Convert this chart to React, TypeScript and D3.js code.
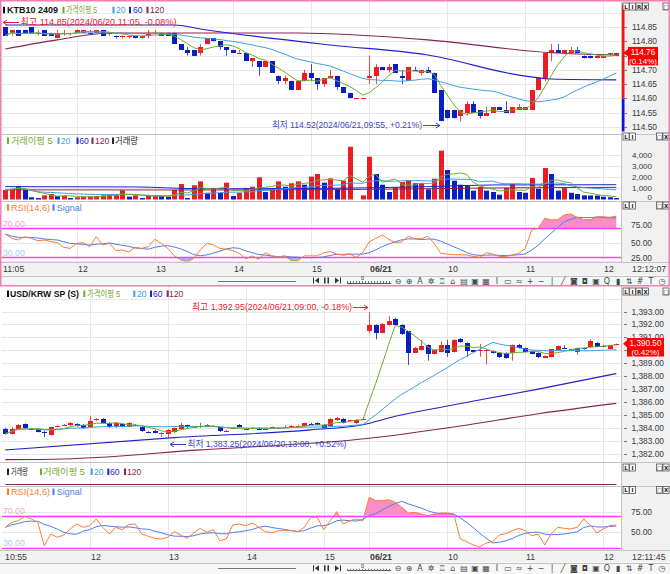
import { useEffect, useRef } from 'react';
import * as d3 from 'd3';

const W = 670;
const H = 574;
const PLOT_L = 2;
const PLOT_R = 621;

const RED = '#eb1c24';
const BLUE = '#0a1ec8';
const GREEN = '#6cac2c';
const SKY = '#3c9ee8';
const NAVY = '#1e22c4';
const PLUM = '#882452';
const ORANGE = '#ff7a32';
const SIGNAL = '#4c7cf2';
const MAGENTA = '#ff3cff';
const PINK_FILL = '#f98ec4';
const SKY_FILL = '#8ec6f2';
const GRID = '#e8e8e8';
const RULE = '#c4c4c4';
const PANEL = '#f1f1f1';
const TOOLBAR = '#f6f6f6';
const INK = '#3a3a3a';
const FONT = "'Liberation Sans', Arial, 'Noto Sans CJK KR', sans-serif";
const SYMBOL = "'DejaVu Sans', sans-serif";

// ---------- KTB10 2409, 5 minute bars (06/20 11:05 .. 06/21 12:10)
const ktbOpen = [
  114.85, 114.83, 114.84, 114.84, 114.85, 114.83, 114.84, 114.83, 114.81, 114.83,
  114.83, 114.83, 114.83, 114.83, 114.83, 114.84, 114.83, 114.82, 114.82, 114.82,
  114.82, 114.81, 114.82, 114.83, 114.83, 114.83, 114.83, 114.79, 114.77, 114.77,
  114.76, 114.79, 114.81, 114.80, 114.78, 114.77, 114.76, 114.76, 114.73, 114.73,
  114.71, 114.73, 114.68, 114.66, 114.66, 114.63, 114.66, 114.69, 114.67, 114.65,
  114.67, 114.68, 114.64, 114.62, 114.60, 114.60, 114.67, 114.68, 114.71, 114.70,
  114.72, 114.68, 114.66, 114.70, 114.69, 114.70, 114.69, 114.63, 114.56, 114.56,
  114.54, 114.55, 114.58, 114.56, 114.54, 114.55, 114.57, 114.56, 114.55, 114.56,
  114.56, 114.56, 114.63, 114.67, 114.76, 114.77, 114.76, 114.76, 114.77, 114.75,
  114.75, 114.74, 114.74, 114.76, 114.75,
];
const ktbHigh = [
  114.85, 114.84, 114.84, 114.84, 114.85, 114.84, 114.84, 114.83, 114.84, 114.84,
  114.83, 114.84, 114.84, 114.84, 114.84, 114.84, 114.83, 114.82, 114.82, 114.82,
  114.82, 114.82, 114.84, 114.84, 114.83, 114.83, 114.83, 114.79, 114.78, 114.77,
  114.79, 114.81, 114.81, 114.80, 114.78, 114.77, 114.77, 114.76, 114.74, 114.73,
  114.73, 114.73, 114.68, 114.68, 114.66, 114.66, 114.70, 114.72, 114.67, 114.67,
  114.70, 114.68, 114.64, 114.62, 114.60, 114.60, 114.75, 114.72, 114.71, 114.72,
  114.72, 114.70, 114.71, 114.71, 114.70, 114.71, 114.69, 114.63, 114.56, 114.56,
  114.56, 114.59, 114.59, 114.56, 114.57, 114.57, 114.57, 114.59, 114.57, 114.58,
  114.57, 114.63, 114.67, 114.76, 114.79, 114.79, 114.77, 114.78, 114.78, 114.75,
  114.75, 114.75, 114.75, 114.76, 114.76,
];
const ktbLow = [
  114.82, 114.82, 114.82, 114.83, 114.83, 114.82, 114.82, 114.82, 114.81, 114.82,
  114.82, 114.83, 114.83, 114.83, 114.83, 114.82, 114.82, 114.81, 114.81, 114.81,
  114.81, 114.81, 114.81, 114.83, 114.82, 114.82, 114.79, 114.77, 114.75, 114.75,
  114.75, 114.79, 114.80, 114.77, 114.75, 114.76, 114.76, 114.73, 114.71, 114.68,
  114.71, 114.69, 114.65, 114.65, 114.63, 114.63, 114.66, 114.66, 114.63, 114.64,
  114.67, 114.63, 114.62, 114.60, 114.60, 114.60, 114.65, 114.65, 114.70, 114.69,
  114.69, 114.65, 114.66, 114.70, 114.68, 114.69, 114.62, 114.52, 114.53, 114.53,
  114.52, 114.54, 114.55, 114.53, 114.54, 114.55, 114.56, 114.55, 114.55, 114.56,
  114.56, 114.56, 114.63, 114.66, 114.73, 114.76, 114.76, 114.76, 114.76, 114.74,
  114.74, 114.74, 114.74, 114.75, 114.75,
];
const ktbClose = [
  114.82, 114.84, 114.82, 114.83, 114.83, 114.83, 114.82, 114.82, 114.83, 114.83,
  114.83, 114.84, 114.84, 114.83, 114.84, 114.82, 114.83, 114.82, 114.82, 114.82,
  114.81, 114.82, 114.83, 114.83, 114.82, 114.82, 114.79, 114.77, 114.76, 114.75,
  114.78, 114.81, 114.80, 114.78, 114.77, 114.76, 114.76, 114.73, 114.74, 114.71,
  114.73, 114.69, 114.66, 114.67, 114.63, 114.66, 114.69, 114.67, 114.65, 114.67,
  114.68, 114.64, 114.62, 114.60, 114.60, 114.60, 114.68, 114.71, 114.70, 114.71,
  114.69, 114.67, 114.71, 114.70, 114.70, 114.69, 114.62, 114.52, 114.53, 114.53,
  114.56, 114.58, 114.55, 114.54, 114.55, 114.57, 114.56, 114.55, 114.57, 114.57,
  114.57, 114.63, 114.67, 114.76, 114.77, 114.76, 114.77, 114.77, 114.76, 114.74,
  114.74, 114.75, 114.75, 114.76, 114.76,
];
const ktbVolume = [
  850, 960, 1200, 850, 200, 130, 370, 490, 300, 340,
  130, 200, 250, 260, 300, 370, 430, 440, 820, 250,
  370, 130, 370, 380, 310, 250, 850, 1380, 130, 1270,
  1620, 600, 1030, 600, 1500, 310, 600, 1030, 1140, 1980,
  670, 1030, 1620, 1140, 1450, 1620, 1320, 2040, 2280, 1500,
  1890, 960, 1680, 4710, 0, 370, 3820, 2280, 1320, 670,
  1090, 1560, 1740, 1450, 1460, 910, 1860, 4360, 2630, 1680,
  1320, 1200, 790, 1140, 790, 670, 430, 1030, 1380, 670,
  600, 1920, 960, 2810, 2280, 790, 1030, 600, 490, 370,
  360, 350, 250, 200, 130,
];
const ktbRsi = [
  62, 56, 53.7, 58.3, 56, 52.7, 53.7, 51.4, 50, 43.5,
  42, 49, 50, 44.4, 58.3, 46.7, 49, 38.8, 39.7, 37,
  43.5, 42, 44.4, 54.7, 49, 42, 31.6, 26, 23, 28.2,
  39.7, 49, 46.7, 42, 41, 38.8, 35, 27.4, 31.6, 26.6,
  36, 31.6, 29.6, 31.6, 24.9, 24.9, 31.6, 31.6, 31.6, 36,
  37.5, 34, 32.4, 34, 29.6, 36, 51, 56, 60.7, 54.7,
  50, 51, 58.9, 55.5, 55.5, 58.9, 49, 35, 34, 33.3,
  33, 33, 30.7, 29.6, 36, 34, 30.7, 30.7, 33, 35,
  42, 67.6, 70, 84, 81.7, 82, 88.6, 90, 85.3, 82,
  82, 86, 86, 85.3, 87,
];
// long averages: [bar index, value]
const ktbMa60 = [[0, 114.857], [26, 114.857], [30, 114.843], [50, 114.787], [65, 114.752], [80, 114.678], [84, 114.668], [94, 114.665]];
const ktbMa120 = [[0, 114.773], [8, 114.805], [16, 114.829], [45, 114.829], [65, 114.805], [84, 114.76], [94, 114.752]];
const ktbVolMa60 = [[0, 1150], [20, 1120], [30, 960], [50, 1000], [65, 1150], [75, 1300], [94, 1320]];
const ktbVolMa120 = [[0, 860], [30, 850], [55, 900], [70, 1000], [85, 1070], [94, 1080]];
const ktbPriceTicks = [114.5, 114.55, 114.6, 114.65, 114.7, 114.75, 114.8, 114.85];
const ktbGridTicks = [114.5, 114.55, 114.6, 114.65, 114.7, 114.75, 114.8, 114.85, 114.9];
const ktbVolTicks = [0, 1000, 2000, 3000, 4000];
const ktbRsiTicks = [25, 50, 75];
const ktbTimeIdx = [0, 11, 23, 35, 47, 56, 68, 80, 92];
const ktbTimeText = ['11:05', '12', '13', '14', '15', '06/21', '10', '11', '12'];

// ---------- USD/KRW SP (S)
const usdOpen = [
  1383.90, 1383.55, 1383.90, 1384.30, 1383.95, 1383.90, 1383.70, 1383.45, 1384.10, 1384.25,
  1384.20, 1384.30, 1384.20, 1384.10, 1384.60, 1384.70, 1384.40, 1384.05, 1384.30, 1384.10,
  1384.25, 1384.10, 1383.70, 1383.80, 1383.60, 1383.55, 1383.65, 1383.90, 1384.20, 1384.10,
  1384.05, 1384.10, 1384.15, 1384.05, 1383.80, 1384.00, 1384.25, 1383.95, 1384.00, 1383.95,
  1383.95, 1384.05, 1384.00, 1384.05, 1384.05, 1384.15, 1384.15, 1384.30, 1384.40, 1384.25,
  1384.15, 1384.60, 1384.70, 1384.60, 1384.35, 1384.65, 1391.47, 1391.93, 1391.36, 1391.93,
  1392.40, 1391.98, 1391.47, 1389.82, 1390.02, 1390.39, 1389.72, 1389.87, 1390.39, 1389.87,
  1390.90, 1390.59, 1390.02, 1389.97, 1389.92, 1389.97, 1389.82, 1389.82, 1389.77, 1390.44,
  1390.18, 1389.97, 1389.82, 1389.41, 1389.46, 1390.02, 1390.15, 1390.05, 1389.90, 1390.15,
  1390.23, 1390.59, 1390.33, 1390.10, 1390.39,
];
const usdHigh = [
  1384.00, 1384.10, 1384.30, 1384.35, 1384.00, 1383.95, 1383.75, 1384.10, 1384.20, 1384.30,
  1384.45, 1384.35, 1384.30, 1384.90, 1384.75, 1384.75, 1384.45, 1384.40, 1384.35, 1384.45,
  1384.30, 1384.15, 1383.75, 1383.85, 1383.65, 1383.90, 1384.05, 1384.40, 1384.25, 1384.15,
  1384.40, 1384.30, 1384.20, 1384.10, 1383.85, 1384.05, 1384.30, 1384.00, 1384.05, 1384.05,
  1384.00, 1384.10, 1384.05, 1384.20, 1384.20, 1384.20, 1384.40, 1384.40, 1384.45, 1384.30,
  1384.75, 1384.85, 1384.75, 1384.65, 1384.65, 1384.75, 1392.95, 1392.00, 1392.10, 1392.65,
  1392.50, 1392.00, 1391.50, 1390.25, 1390.80, 1390.45, 1390.05, 1390.70, 1390.80, 1390.85,
  1390.95, 1390.62, 1390.05, 1390.50, 1390.05, 1390.00, 1389.85, 1389.85, 1390.45, 1390.50,
  1390.20, 1390.00, 1389.85, 1389.60, 1390.10, 1390.36, 1390.40, 1390.12, 1390.20, 1390.20,
  1390.85, 1390.62, 1390.40, 1390.42, 1390.52,
];
const usdLow = [
  1383.50, 1383.50, 1383.85, 1383.95, 1383.85, 1383.65, 1383.30, 1383.40, 1384.05, 1384.20,
  1384.15, 1384.10, 1383.95, 1384.05, 1384.55, 1384.35, 1384.00, 1384.00, 1384.05, 1384.05,
  1384.20, 1383.70, 1383.65, 1383.60, 1383.30, 1383.25, 1383.60, 1383.85, 1384.00, 1384.05,
  1384.00, 1384.05, 1384.10, 1383.70, 1383.75, 1383.95, 1384.05, 1383.90, 1383.95, 1383.90,
  1383.90, 1384.00, 1383.95, 1384.00, 1384.00, 1384.10, 1384.10, 1384.25, 1384.20, 1383.95,
  1384.10, 1384.55, 1384.35, 1384.55, 1384.30, 1384.60, 1391.30, 1390.85, 1391.30, 1391.90,
  1391.95, 1391.20, 1388.87, 1389.80, 1390.00, 1389.20, 1389.70, 1389.85, 1389.50, 1389.85,
  1390.60, 1389.50, 1389.85, 1389.50, 1388.90, 1389.75, 1389.40, 1389.35, 1389.20, 1390.15,
  1389.85, 1389.70, 1389.40, 1389.38, 1389.44, 1390.00, 1390.10, 1390.00, 1389.65, 1390.05,
  1390.20, 1390.25, 1390.28, 1390.05, 1390.38,
];
const usdClose = [
  1383.55, 1383.90, 1384.25, 1384.00, 1383.90, 1383.70, 1383.60, 1384.05, 1384.15, 1384.25,
  1384.40, 1384.15, 1384.00, 1384.55, 1384.70, 1384.40, 1384.05, 1384.35, 1384.10, 1384.40,
  1384.25, 1383.75, 1383.70, 1383.60, 1383.60, 1383.85, 1384.00, 1384.25, 1384.05, 1384.10,
  1384.15, 1384.25, 1384.15, 1383.75, 1383.80, 1384.00, 1384.10, 1383.95, 1384.00, 1383.95,
  1383.95, 1384.05, 1384.00, 1384.05, 1384.15, 1384.15, 1384.35, 1384.30, 1384.25, 1384.00,
  1384.70, 1384.80, 1384.40, 1384.60, 1384.60, 1384.70, 1391.98, 1391.36, 1392.03, 1392.30,
  1391.98, 1391.26, 1389.82, 1390.18, 1390.33, 1389.72, 1390.02, 1390.39, 1389.82, 1390.80,
  1390.64, 1389.92, 1389.87, 1390.02, 1390.02, 1389.77, 1389.46, 1389.41, 1390.39, 1390.18,
  1389.87, 1389.72, 1389.46, 1389.56, 1390.08, 1390.33, 1390.13, 1390.08, 1390.18, 1390.13,
  1390.70, 1390.28, 1390.30, 1390.40, 1390.50,
];
const usdRsi = [
  55.5, 61.7, 63.7, 69.2, 65.9, 61.7, 32.5, 47.1, 43, 45.9,
  53.4, 59.6, 55.5, 57.5, 65.9, 55.5, 47.1, 55.5, 52.5, 59.2,
  59.6, 47.1, 44.2, 41.7, 40.9, 43, 50, 45.9, 41.7, 48.4,
  54.2, 49.2, 52.5, 38.8, 40.9, 58.4, 59.6, 57.5, 60.9, 55.5,
  50, 48.4, 51.3, 51.3, 51.3, 50, 55.5, 68, 68, 52.5,
  63.7, 75, 59.6, 63.7, 65.9, 63.7, 93, 88.8, 88.8, 90,
  86.7, 80.5, 73.4, 74.2, 72.1, 70, 72.1, 73.4, 73.4, 72.1,
  40.9, 37.5, 33.4, 30.9, 35.9, 37.5, 45.9, 47.5, 51.3, 54.2,
  51.3, 45, 47.1, 33.4, 47.1, 55.5, 54.2, 53.4, 55.5, 65.9,
  58.4, 48.4, 53.4, 57.5, 58.4,
];
const usdMa60 = [[0, 1382.3], [26, 1383.25], [47, 1383.85], [55, 1384.25], [60, 1384.9], [68, 1385.7], [82, 1387.0], [94, 1388.2]];
const usdMa120 = [[0, 1381.55], [9, 1381.6], [30, 1382.3], [56, 1383.2], [70, 1384.15], [82, 1385.1], [94, 1385.9]];
const usdPriceTicks = [1382, 1383, 1384, 1385, 1386, 1387, 1388, 1389, 1390, 1391, 1392, 1393];
const usdGridTicks = [1382, 1383, 1384, 1385, 1386, 1387, 1388, 1389, 1390, 1391, 1392, 1393, 1394];
const usdRsiTicks = [50, 75];
const usdTimeIdx = [0, 13, 25, 37, 49, 56, 68, 80, 92];
const usdTimeText = ['10:55', '12', '13', '14', '15', '06/21', '10', '11', '12'];

const TOOL_ICONS = ['⊖', '⊕', 'A', '✲', '♖', '⌂', '▤', '▣', '▦', 'I', '▭', '≈', '+', '−', '|', '╱', '◙', '◘', '▣', 'Q', '▮', '⇅', '#', 'T', '◷'];

const sma = (vals: number[], n: number) =>
  vals.map((_, i) => d3.mean(vals.slice(Math.max(0, i - n + 1), i + 1)) as number);

function addText(g: any, x: number, y: number, s: string, o: any = {}) {
  const t = g.append('text')
    .attr('x', x)
    .attr('y', y)
    .attr('font-family', o.family ?? FONT)
    .attr('font-size', o.size ?? 8.7)
    .attr('fill', o.fill ?? INK)
    .attr('text-anchor', o.anchor ?? 'start')
    .text(s);
  if (o.weight) t.attr('font-weight', o.weight);
  if (o.len) t.attr('textLength', o.len).attr('lengthAdjust', 'spacingAndGlyphs');
  return t;
}

function hline(g: any, x0: number, x1: number, y: number, color: string, width = 1) {
  const yy = Math.round(y) + 0.5;
  g.append('line').attr('x1', x0).attr('x2', x1).attr('y1', yy).attr('y2', yy)
    .attr('stroke', color).attr('stroke-width', width);
}

function vline(g: any, x: number, y0: number, y1: number, color: string) {
  g.append('line').attr('x1', x).attr('x2', x).attr('y1', y0).attr('y2', y1).attr('stroke', color);
}

function stroke(g: any, d: string | null, color: string, width = 1) {
  g.append('path').attr('d', d || '').attr('fill', 'none').attr('stroke', color).attr('stroke-width', width);
}

function drawCandles(g: any, cx: (i: number) => number, y: any, open: number[], high: number[], low: number[], close: number[]) {
  open.forEach((o, i) => {
    const c = close[i];
    const up = c > o || (c === o && (i === 0 || c >= close[i - 1]));
    const col = up ? RED : BLUE;
    const xm = cx(i);
    g.append('line').attr('x1', xm).attr('x2', xm).attr('y1', y(high[i])).attr('y2', y(low[i]))
      .attr('stroke', col).attr('stroke-opacity', 0.8);
    const t = Math.round(y(Math.max(o, c)));
    const b = Math.round(y(Math.min(o, c)));
    g.append('rect').attr('x', xm - 2.5).attr('y', t).attr('width', 5)
      .attr('height', Math.max(1, b - t)).attr('fill', col);
  });
}

function buttonRow(g: any, x: number, y: number, letters: string[]) {
  letters.forEach((s, i) => {
    g.append('rect').attr('x', x + i * 6.5 + 0.5).attr('y', y + 0.5).attr('width', 6).attr('height', 7)
      .attr('fill', '#fbfbfb').attr('stroke', '#555').attr('stroke-width', 0.8);
    addText(g, x + i * 6.5 + 3.5, y + 6.3, s, { size: 5.5, anchor: 'middle', fill: '#222', weight: 'bold', family: SYMBOL });
  });
}

function arrow(g: any, x0: number, x1: number, y: number, dir: 'left' | 'right', color: string) {
  const yy = Math.round(y) + 0.5;
  g.append('line').attr('x1', x0).attr('x2', x1).attr('y1', yy).attr('y2', yy).attr('stroke', color);
  const tip = dir === 'right' ? x1 : x0;
  const back = dir === 'right' ? x1 - 4 : x0 + 4;
  g.append('path').attr('d', `M${back},${yy - 2.5}L${tip},${yy}L${back},${yy + 2.5}`)
    .attr('fill', 'none').attr('stroke', color);
}

function toolbar(g: any, cy: number) {
  hline(g, 218, 296, cy, '#777');
  g.append('rect').attr('x', 313).attr('y', cy - 3).attr('width', 1).attr('height', 6).attr('fill', '#333');
  g.append('path').attr('d', `M319,${cy - 3}L315,${cy}L319,${cy + 3}Z`).attr('fill', '#333');
  g.append('rect').attr('x', 324).attr('y', cy - 3).attr('width', 1.5).attr('height', 6).attr('fill', '#333');
  g.append('rect').attr('x', 327.5).attr('y', cy - 3).attr('width', 1.5).attr('height', 6).attr('fill', '#333');
  g.append('path').attr('d', `M335,${cy - 3}L339,${cy}L335,${cy + 3}Z`).attr('fill', '#333');
  g.append('rect').attr('x', 340).attr('y', cy - 3).attr('width', 1).attr('height', 6).attr('fill', '#333');
  hline(g, 347, 391, cy + 2, '#555');
  d3.range(347, 392, 3).forEach((tx) => vline(g, tx + 0.5, cy + 0.5, cy + 2.5, '#777'));
  addText(g, 361, cy - 0.5, '0', { size: 5.5, fill: '#222' });
  TOOL_ICONS.forEach((s, i) =>
    addText(g, 398 + i * 11, cy + 3, s, { family: SYMBOL, size: 8, fill: '#444', anchor: 'middle' }));
}

function drawChart(svg: any, clipRect: any, cx: (i: number) => number, xs: (i: number) => number, c: any) {
  const g = svg.append('g');
  const n = c.close.length;

  g.append('rect').attr('x', PLOT_R).attr('y', c.top).attr('width', W - PLOT_R)
    .attr('height', c.rsiBottom - c.top).attr('fill', PANEL);
  g.append('rect').attr('x', 0).attr('y', c.rsiBottom).attr('width', W)
    .attr('height', c.axisBottom - c.rsiBottom).attr('fill', PANEL);
  g.append('rect').attr('x', 0).attr('y', c.axisBottom).attr('width', W)
    .attr('height', c.bottom - c.axisBottom).attr('fill', TOOLBAR);

  // grid
  c.gridTicks.forEach((v: number) => {
    const yy = c.yPrice(v);
    if (yy > c.top + 2 && yy < c.priceBottom - 1) hline(g, PLOT_L, PLOT_R, yy, GRID);
  });
  if (c.vol) c.volTicks.slice(1).forEach((v: number) => hline(g, PLOT_L, PLOT_R, c.yVol(v), GRID));
  c.rsiTicks.forEach((v: number) => hline(g, PLOT_L, PLOT_R, c.yRsi(v), GRID));
  c.timeIdx.slice(1).forEach((i: number) => vline(g, cx(i), c.top, c.rsiBottom, GRID));
  [c.priceBottom, c.volBottom, c.rsiBottom, c.axisBottom].forEach((yy: number) => hline(g, 0, W, yy, RULE));
  vline(g, PLOT_R + 0.5, c.top, c.rsiBottom, RULE);

  const sampled = (y: any) => d3.line<number[]>().x((d) => xs(d[0])).y((d) => y(d[1])).curve(d3.curveMonotoneX);
  const series = (y: any) => d3.line<number>().x((_, i) => xs(i)).y((d) => y(d));

  // price panel
  const pg = g.append('g').attr('clip-path', clipRect(PLOT_L, c.top, PLOT_R, c.priceBottom));
  drawCandles(pg, cx, c.yPrice, c.open, c.high, c.low, c.close);
  stroke(pg, sampled(c.yPrice)(c.ma120), PLUM, 1.1);
  stroke(pg, sampled(c.yPrice)(c.ma60), NAVY, 1.1);
  stroke(pg, series(c.yPrice)(sma(c.close, 20)), SKY);
  stroke(pg, series(c.yPrice)(sma(c.close, 5)), GREEN);

  // volume panel
  const vg = g.append('g').attr('clip-path', clipRect(PLOT_L, c.volTop, PLOT_R, c.volBottom));
  if (c.vol) {
    c.vol.forEach((v: number, i: number) => {
      if (!v) return;
      const col = i === 0 || v > c.vol[i - 1] ? RED : BLUE;
      const top = c.yVol(v);
      vg.append('rect').attr('x', cx(i) - 2.5).attr('y', top).attr('width', 5)
        .attr('height', c.yVol(0) - top).attr('fill', col);
    });
    stroke(vg, sampled(c.yVol)(c.volMa120), PLUM);
    stroke(vg, sampled(c.yVol)(c.volMa60), NAVY);
    stroke(vg, series(c.yVol)(sma(c.vol, 20)), SKY);
    stroke(vg, series(c.yVol)(sma(c.vol, 5)), GREEN);
  } else {
    hline(vg, cx(0), cx(n - 1), c.yVol(0), PLUM, 1.2);
  }

  // RSI panel
  const rg = g.append('g').attr('clip-path', clipRect(PLOT_L, c.rsiTop, PLOT_R, c.rsiBottom - 0.5));
  const y70 = c.yRsi(70);
  const y30 = c.yRsi(30);
  const above = d3.area<number>().x((_, i) => xs(i)).y0(y70).y1((d) => c.yRsi(d));
  const below = d3.area<number>().x((_, i) => xs(i)).y0(y30).y1((d) => c.yRsi(d));
  rg.append('path').attr('d', above(c.rsi)).attr('fill', PINK_FILL)
    .attr('clip-path', clipRect(PLOT_L, c.rsiTop, PLOT_R, y70));
  rg.append('path').attr('d', below(c.rsi)).attr('fill', SKY_FILL)
    .attr('clip-path', clipRect(PLOT_L, y30, PLOT_R, c.rsiBottom));
  hline(rg, PLOT_L, PLOT_R, y70, MAGENTA, 1.3);
  if (y30 < c.rsiBottom - 2) hline(rg, PLOT_L, PLOT_R, y30, MAGENTA, 1.3);
  stroke(rg, series(c.yRsi)(sma(c.rsi, 6)), SIGNAL);
  stroke(rg, series(c.yRsi)(c.rsi), ORANGE);
  addText(g, 3, y70 - 1.5, '70.00', { fill: '#f3a7cf' });
  addText(g, 3, Math.min(y30 - 1.5, c.rsiBottom - 3), '30.00', { fill: '#a9cdf2' });

  // right axis
  const last = c.close[n - 1];
  const prev = c.close[c.prevIdx];
  const ly = c.yPrice(last);
  if (c.prevBar) {
    const yp = c.yPrice(prev);
    g.append('rect').attr('x', PLOT_R + 1).attr('y', c.top + 3).attr('width', 2.5)
      .attr('height', yp - c.top - 3).attr('fill', '#ff1010');
    g.append('rect').attr('x', PLOT_R + 1).attr('y', yp).attr('width', 2.5)
      .attr('height', c.priceBottom - 2 - yp).attr('fill', '#1010e0');
  }
  c.priceTicks.forEach((v: number) => {
    const yy = c.yPrice(v);
    hline(g, PLOT_R + 3, PLOT_R + 6, yy, '#777');
    // the tick label sitting fully behind the last-price box is not shown
    if (yy > ly - 4 && yy < ly + 12) return;
    addText(g, c.priceRight, yy + 3, c.priceFmt(v), { anchor: 'end', size: 8.4 });
  });
  if (c.vol) {
    c.volTicks.forEach((v: number) => {
      const yy = Math.min(c.yVol(v), c.volBottom - 3.5);
      addText(g, 652, yy + 2.8, d3.format(',')(v), { anchor: 'end', size: 8 });
    });
  }
  c.rsiTicks.forEach((v: number) => {
    const yy = Math.min(c.yRsi(v), c.rsiBottom - 4);
    addText(g, 652, yy + 3, d3.format('.2f')(v), { anchor: 'end', size: 8.4 });
  });

  // last price box
  g.append('path').attr('d', `M${PLOT_R + 2},${ly}L${c.boxX},${ly - 3.5}L${c.boxX},${ly + 3.5}Z`).attr('fill', '#ff0000');
  g.append('rect').attr('x', c.boxX).attr('y', ly - 5.8).attr('width', c.boxW).attr('height', 18.5).attr('fill', '#ff0000');
  addText(g, c.boxX + c.boxW / 2, ly + 2.6, c.priceFmt(last), { anchor: 'middle', fill: '#fff', size: 8.2 });
  addText(g, c.boxX + c.boxW / 2, ly + 11.4, `(${d3.format('.2f')(((last - prev) / prev) * 100)}%)`, { anchor: 'middle', fill: '#fff', size: 8 });

  // legends
  c.legends.forEach((row: any) => {
    row.items.forEach(([mx, tx, label, color, len, bold]: any) => {
      g.append('rect').attr('x', mx).attr('y', row.y - 6.5).attr('width', 2).attr('height', 6.5).attr('fill', color);
      addText(g, tx, row.y, label, { fill: color, size: 8.6, len, weight: bold ? 'bold' : undefined });
    });
  });

  // high / low notes
  c.notes.forEach((nt: any) => {
    addText(g, nt.x, nt.y, nt.text, { fill: nt.color, size: 9, len: nt.len });
    arrow(g, nt.ax0, nt.ax1, nt.y - 3, nt.dir, nt.color);
  });

  // time axis
  c.timeIdx.forEach((i: number, k: number) => {
    const tx = i === 0 ? c.firstLabelX : cx(i) + 0.5;
    addText(g, tx, c.rsiBottom + 10, c.timeText[k], { size: 8.8, weight: c.timeText[k].includes('/') ? 'bold' : undefined });
  });
  addText(g, 632, c.rsiBottom + 10, c.clock, { size: 8.8 });

  c.buttons.forEach(([bx, by, letters]: any) => buttonRow(g, bx, by, letters));
  toolbar(g, (c.axisBottom + c.bottom) / 2);
  return g;
}

export default function App() {
  const svgRef = useRef<SVGSVGElement>(null);

  useEffect(() => {
    if (!svgRef.current) return;
    const svg = d3.select(svgRef.current);
    svg.selectAll('*').remove();

    const defs = svg.append('defs');
    let clipCount = 0;
    const clipRect = (x0: number, y0: number, x1: number, y1: number) => {
      const id = `clip-${clipCount++}`;
      defs.append('clipPath').attr('id', id).append('rect')
        .attr('x', x0).attr('y', y0).attr('width', x1 - x0).attr('height', y1 - y0);
      return `url(#${id})`;
    };

    svg.append('rect').attr('width', W).attr('height', H).attr('fill', '#fff');

    const n = ktbClose.length;
    const x = d3.scalePoint<number>().domain(d3.range(n)).range([5.25, 5.25 + 6.5 * (n - 1)]);
    const xs = (i: number) => x(i) as number;
    const cx = (i: number) => Math.round(xs(i)) + 0.5;

    drawChart(svg, clipRect, cx, xs, {
      top: 1.5, priceBottom: 133.5, volTop: 134, volBottom: 200.5, rsiTop: 201, rsiBottom: 262, axisBottom: 275.5, bottom: 285.5,
      yPrice: d3.scaleLinear().domain([114.5, 114.85]).range([127, 27]),
      priceTicks: ktbPriceTicks, gridTicks: ktbGridTicks, priceFmt: d3.format('.2f'), priceRight: 657,
      open: ktbOpen, high: ktbHigh, low: ktbLow, close: ktbClose, ma60: ktbMa60, ma120: ktbMa120,
      yVol: d3.scaleLinear().domain([0, 4000]).range([199.5, 154.7]),
      vol: ktbVolume, volMa60: ktbVolMa60, volMa120: ktbVolMa120, volTicks: ktbVolTicks,
      yRsi: d3.scaleLinear().domain([30, 70]).range([257, 228.3]), rsi: ktbRsi, rsiTicks: ktbRsiTicks,
      prevIdx: 55, prevBar: true, boxX: 628, boxW: 30,
      timeIdx: ktbTimeIdx, timeText: ktbTimeText, firstLabelX: 3, clock: '12:12:07',
      legends: [
        { y: 13.3, items: [[3, 7, 'KTB10 2409', '#111', 51, true], [62.5, 66, '가격이평 5', GREEN, 31], [112.5, 116, '20', SKY], [129, 133, '60', NAVY], [146.5, 150, '120', PLUM]] },
        { y: 144, items: [[7, 10.7, '거래이평 5', GREEN, 42], [57.5, 60.7, '20', SKY], [76.5, 79.3, '60', NAVY], [91.5, 95, '120', PLUM], [112, 115, '거래량', '#222', 23]] },
        { y: 210.7, items: [[7, 11, 'RSI(14,6)', ORANGE, 39], [52.5, 56.7, 'Signal', SIGNAL, 25]] },
      ],
      notes: [
        { text: '최고 114.85(2024/06/20,11:05, -0.08%)', x: 20.5, y: 24.5, len: 156, color: '#e8202c', ax0: 3, ax1: 19, dir: 'left' },
        { text: '최저 114.52(2024/06/21,09:55, +0.21%)', x: 272, y: 128, len: 150, color: '#3c44c8', ax0: 423, ax1: 440, dir: 'right' },
      ],
      buttons: [
        [622.5, 2.5, ['L', 'I', 'R', 'X']], [662.5, 2.5, ['□']],
        [622.5, 132.5, ['L', 'I']], [656, 132.5, ['□', 'X']],
        [622.5, 201.5, ['L', 'I']], [656, 201.5, ['□', 'X']],
      ],
    });

    drawChart(svg, clipRect, cx, xs, {
      top: 286.5, priceBottom: 461.5, volTop: 462, volBottom: 485.5, rsiTop: 486, rsiBottom: 550, axisBottom: 562.5, bottom: 574,
      yPrice: d3.scaleLinear().domain([1382, 1393]).range([453.8, 311.5]),
      priceTicks: usdPriceTicks, gridTicks: usdGridTicks, priceFmt: d3.format(',.2f'), priceRight: 664,
      open: usdOpen, high: usdHigh, low: usdLow, close: usdClose, ma60: usdMa60, ma120: usdMa120,
      yVol: d3.scaleLinear().domain([0, 1]).range([483.5, 470]),
      vol: null,
      yRsi: d3.scaleLinear().domain([50, 75]).range([531.7, 511.7]), rsi: usdRsi, rsiTicks: usdRsiTicks,
      prevIdx: 55, prevBar: false, boxX: 627, boxW: 37,
      timeIdx: usdTimeIdx, timeText: usdTimeText, firstLabelX: 5, clock: '12:11:45',
      legends: [
        { y: 297, items: [[7, 10, 'USD/KRW SP (S)', '#111', 69, true], [83.3, 87, '가격이평 5', GREEN, 33], [133.3, 137, '20', SKY], [150, 153, '60', NAVY], [166.7, 169, '120', PLUM]] },
        { y: 475, items: [[7, 11, '거래량', '#222', 17], [40, 43, '거래이평 5', GREEN, 42], [90.7, 94, '20', SKY], [107.3, 110, '60', NAVY], [124, 127, '120', PLUM]] },
        { y: 495, items: [[7, 11, 'RSI(14,6)', ORANGE, 39], [52.5, 56.7, 'Signal', SIGNAL, 25]] },
      ],
      notes: [
        { text: '최고 1,392.95(2024/06/21,09:00, -0.18%)', x: 192, y: 309.5, len: 160, color: '#e8202c', ax0: 353, ax1: 368, dir: 'right' },
        { text: '최저 1,383.25(2024/06/20,13:00, +0.52%)', x: 187.5, y: 446.5, len: 159, color: '#3c44c8', ax0: 170, ax1: 186, dir: 'left' },
      ],
      buttons: [
        [622.5, 287.5, ['L', 'I', 'R', 'X']], [662.5, 287.5, ['□']],
        [622.5, 463.5, ['L', 'I']], [656, 463.5, ['□', 'X']],
        [622.5, 486, ['L', 'I']], [656, 486, ['□', 'X']],
      ],
    });

    // pink frame around the active (upper) chart
    svg.append('rect').attr('x', 0.75).attr('y', 0.75).attr('width', W - 1.5).attr('height', 285)
      .attr('fill', 'none').attr('stroke', '#f47caf').attr('stroke-width', 1.5);
  }, []);

  return (
    <svg
      ref={svgRef}
      width={W}
      height={H}
      viewBox={`0 0 ${W} ${H}`}
      style={{ position: 'absolute', left: 0, top: 0, display: 'block' }}
    />
  );
}
